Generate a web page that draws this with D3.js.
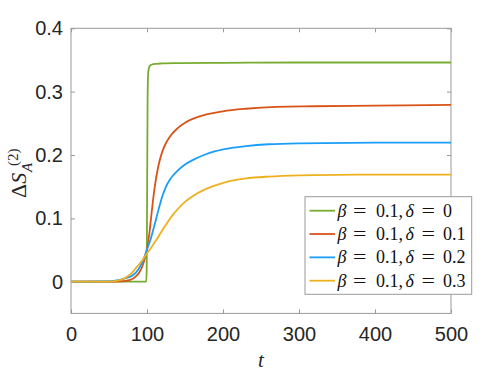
<!DOCTYPE html>
<html><head><meta charset="utf-8">
<script src="https://cdn.jsdelivr.net/npm/d3@7"></script>
<style>body{margin:0;background:#fff}svg{display:block}</style>
</head><body><svg id="c" width="498" height="374"></svg>
<script>
const xTicks = [0,100,200,300,400,500];
const yTicks = [0,0.1,0.2,0.3,0.4];
const deltaLabels = ["0","0.1","0.2","0.3"];
const seriesColors = ["#77AC30","#D95319","#1A9EFA","#EDB120"];
const tGreen = [0,50,90,99,99.6,100.2,100.8,101.5,102.5,104,107,112,120,140,200,300,400,500];
const vGreen = [0,0,0,0,0.02,0.15,0.29,0.328,0.337,0.341,0.343,0.344,0.3445,0.345,0.3455,0.346,0.346,0.346];
const tRed = [0,55,65,75,80,85,90,95,100,103,106,110,115,120,125,130,140,150,160,175,200,230,270,320,400,500];
const vRed = [0,0,0.0005,0.002,0.004,0.008,0.015,0.028,0.052,0.075,0.108,0.148,0.183,0.205,0.219,0.229,0.242,0.251,0.257,0.263,0.269,0.273,0.276,0.277,0.278,0.279];
const tBlue = [0,50,60,70,78,85,90,95,100,105,110,115,120,125,130,140,150,160,175,190,210,230,260,300,400,500];
const vBlue = [0,0.0005,0.002,0.005,0.008,0.014,0.022,0.034,0.051,0.068,0.090,0.113,0.134,0.150,0.161,0.175,0.185,0.192,0.200,0.206,0.211,0.214,0.217,0.2185,0.2195,0.2195];
const tYellow = [0,50,60,65,70,75,80,85,90,95,100,105,110,115,120,125,130,135,140,150,160,175,190,210,230,260,300,350,400,500];
const vYellow = [0,0.0003,0.0015,0.003,0.005,0.009,0.014,0.021,0.028,0.036,0.045,0.053,0.062,0.071,0.081,0.090,0.099,0.107,0.114,0.126,0.135,0.145,0.152,0.159,0.163,0.166,0.168,0.1688,0.169,0.169];

const svg = d3.select("#c");
const L=71, R=451, T=28.3, B=313.4;
const x = d3.scaleLinear().domain([0,500]).range([L,R]);
const y = d3.scaleLinear().domain([-0.05,0.4]).range([B,T]);
const axisColor="#9a9a9a", textColor="#262626";
const fontSans="'Liberation Sans', Arial, Helvetica, sans-serif";
const fontSerif="'Liberation Serif', 'Times New Roman', serif";

// frame
svg.append("rect").attr("x",L).attr("y",T).attr("width",R-L).attr("height",B-T)
  .attr("fill","none").attr("stroke",axisColor).attr("stroke-width",1);

// ticks
const ax = svg.append("g").attr("transform",`translate(0,${B})`).call(d3.axisBottom(x).tickValues(xTicks).tickSize(-4).tickPadding(13).tickFormat(d3.format("d")));
const axT = svg.append("g").attr("transform",`translate(0,${T})`).call(d3.axisTop(x).tickValues(xTicks).tickSize(-4).tickFormat(""));
const ay = svg.append("g").attr("transform",`translate(${L},0)`).call(d3.axisLeft(y).tickValues(yTicks).tickSize(-4).tickPadding(8).tickFormat(d=>d===0?"0":d3.format(".1f")(d)));
const ayR = svg.append("g").attr("transform",`translate(${R},0)`).call(d3.axisRight(y).tickValues(yTicks).tickSize(-4).tickFormat(""));
[ax,axT,ay,ayR].forEach(g=>{
  g.select(".domain").remove();
  g.selectAll(".tick line").attr("stroke",axisColor);
  g.selectAll("text").attr("fill",textColor).style("font-family",fontSans).style("font-size","20px");
});

// lines
const data = [[tGreen,vGreen],[tRed,vRed],[tBlue,vBlue],[tYellow,vYellow]];
const line = d3.line().x(d=>x(d[0])).y(d=>y(d[1])).curve(d3.curveMonotoneX);
data.forEach((s,i)=>{
  const pts = s[0].map((t,j)=>[t,s[1][j]]);
  svg.append("path").datum(pts).attr("d",line).attr("fill","none")
    .attr("stroke",seriesColors[i]).attr("stroke-width",1.8);
});

// x label
svg.append("text").attr("x",261).attr("y",366.5).attr("text-anchor","middle")
  .style("font-family",fontSerif).style("font-style","italic").style("font-size","21px").attr("fill",textColor).text("t");

// y label
const yl = svg.append("text").attr("transform","translate(26,0) rotate(-90)")
  .style("font-family",fontSerif).style("font-size","22px").attr("fill",textColor);
yl.append("tspan").attr("x",-198).text("Δ");
yl.append("tspan").style("font-style","italic").text("S");
yl.append("tspan").attr("x",-172).style("font-style","italic").style("font-size","15px").attr("dy",6).text("A");
yl.append("tspan").attr("x",-166).style("font-size","15px").attr("dy",-14).text("(2)");

// legend
const lg = svg.append("g");
lg.append("rect").attr("x",305).attr("y",196.7).attr("width",166.7).attr("height",97.6)
  .attr("fill","#fff").attr("stroke",axisColor).attr("stroke-width",1);
deltaLabels.forEach((n,i)=>{
  const cy = 210.7 + i*23.33;
  const by = cy + 6;
  lg.append("line").attr("x1",309.5).attr("x2",335).attr("y1",cy).attr("y2",cy)
    .attr("stroke",seriesColors[i]).attr("stroke-width",1.8);
  const tok = (tx, s, italic, len) => {
    const t = lg.append("text").attr("x",tx).attr("y",by).style("font-family",fontSerif)
      .style("font-size","18px").attr("fill","#111").style("font-style",italic?"italic":"normal").text(s);
    if (len) t.attr("textLength",len).attr("lengthAdjust","spacingAndGlyphs");
  };
  tok(337.5,"β",true);
  tok(353,"=",false,13.5);
  tok(376,"0.1,",false);
  tok(405.5,"δ",true);
  tok(421.5,"=",false,13.5);
  tok(443,n,false);
});
</script></body></html>
